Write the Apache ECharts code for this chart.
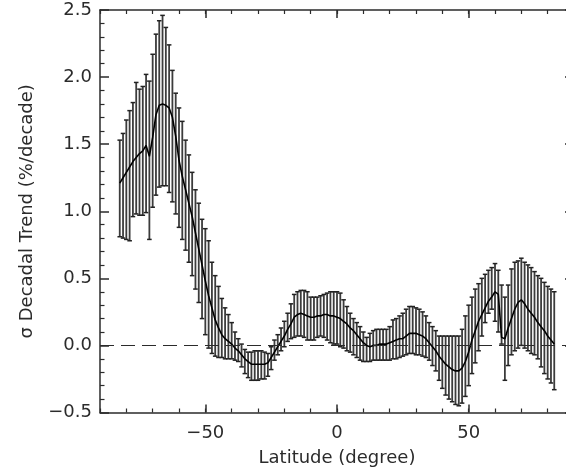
<!DOCTYPE html>
<html><head><meta charset="utf-8">
<script src="https://cdn.jsdelivr.net/npm/echarts@6/dist/echarts.min.js"></script>
<style>html,body{margin:0;padding:0;background:#fff;}#c{width:566px;height:474px;}</style>
</head><body><div id="c"></div>
<script>
const latitude = [
 -82.5,-81.25,-80,-78.75,-77.5,-76.25,-75,-73.75,-72.5,-71.25,
 -70,-68.75,-67.5,-66.25,-65,-63.75,-62.5,-61.25,-60,-58.75,
 -57.5,-56.25,-55,-53.75,-52.5,-51.25,-50,-48.75,-47.5,-46.25,
 -45,-43.75,-42.5,-41.25,-40,-38.75,-37.5,-36.25,-35,-33.75,
 -32.5,-31.25,-30,-28.75,-27.5,-26.25,-25,-23.75,-22.5,-21.25,
 -20,-18.75,-17.5,-16.25,-15,-13.75,-12.5,-11.25,-10,-8.75,
 -7.5,-6.25,-5,-3.75,-2.5,-1.25,0,1.25,2.5,3.75,
 5,6.25,7.5,8.75,10,11.25,12.5,13.75,15,16.25,
 17.5,18.75,20,21.25,22.5,23.75,25,26.25,27.5,28.75,
 30,31.25,32.5,33.75,35,36.25,37.5,38.75,40,41.25,
 42.5,43.75,45,46.25,47.5,48.75,50,51.25,52.5,53.75,
 55,56.25,57.5,58.75,60,61.25,62.5,63.75,65,66.25,
 67.5,68.75,70,71.25,72.5,73.75,75,76.25,77.5,78.75,
 80,81.25,82.5];
const trendMean = [
 1.21,1.25,1.29,1.33,1.37,1.40,1.43,1.45,1.49,1.41,
 1.55,1.72,1.79,1.80,1.79,1.77,1.70,1.56,1.38,1.26,
 1.16,1.06,0.96,0.84,0.72,0.60,0.48,0.37,0.28,0.19,
 0.13,0.08,0.05,0.03,0.01,-0.02,-0.04,-0.07,-0.10,-0.12,
 -0.14,-0.14,-0.14,-0.14,-0.14,-0.13,-0.09,-0.05,-0.01,0.03,
 0.07,0.12,0.16,0.21,0.23,0.24,0.23,0.22,0.21,0.21,
 0.22,0.22,0.23,0.23,0.22,0.22,0.21,0.20,0.18,0.16,
 0.13,0.11,0.08,0.05,0.02,0.00,-0.01,0.00,0.00,0.01,
 0.01,0.01,0.02,0.03,0.04,0.05,0.05,0.07,0.09,0.09,
 0.09,0.08,0.07,0.05,0.02,-0.01,-0.04,-0.08,-0.11,-0.14,
 -0.16,-0.18,-0.19,-0.19,-0.17,-0.12,-0.05,0.04,0.11,0.18,
 0.23,0.28,0.33,0.36,0.40,0.38,0.06,0.05,0.13,0.20,
 0.27,0.32,0.34,0.31,0.27,0.24,0.21,0.17,0.14,0.11,
 0.07,0.04,0.01];
const trendUpper = [
 1.53,1.58,1.68,1.75,1.81,1.96,1.91,1.93,2.02,1.97,
 2.17,2.32,2.42,2.46,2.37,2.24,2.05,1.88,1.77,1.67,
 1.53,1.42,1.29,1.16,1.06,0.94,0.87,0.78,0.62,0.52,
 0.44,0.35,0.28,0.23,0.17,0.10,0.05,0.01,-0.03,-0.05,
 -0.05,-0.04,-0.04,-0.04,-0.05,-0.06,-0.01,0.04,0.08,0.13,
 0.18,0.24,0.31,0.38,0.40,0.41,0.41,0.40,0.36,0.36,
 0.36,0.37,0.38,0.39,0.40,0.40,0.40,0.39,0.34,0.29,
 0.24,0.20,0.17,0.14,0.10,0.06,0.09,0.11,0.12,0.12,
 0.12,0.12,0.14,0.19,0.20,0.22,0.24,0.27,0.29,0.29,
 0.28,0.27,0.25,0.22,0.17,0.14,0.11,0.07,0.07,0.07,
 0.07,0.07,0.07,0.07,0.12,0.22,0.30,0.36,0.42,0.46,
 0.50,0.53,0.56,0.58,0.61,0.56,0.45,0.36,0.45,0.57,
 0.62,0.63,0.65,0.62,0.60,0.58,0.55,0.52,0.50,0.47,
 0.44,0.42,0.40];
const trendLower = [
 0.81,0.80,0.79,0.78,0.96,0.98,0.97,0.97,0.99,0.79,
 1.03,1.12,1.18,1.19,1.19,1.14,1.07,0.98,0.88,0.79,
 0.71,0.62,0.52,0.42,0.32,0.20,0.08,-0.02,-0.06,-0.08,
 -0.09,-0.09,-0.10,-0.10,-0.10,-0.11,-0.12,-0.16,-0.21,-0.24,
 -0.26,-0.26,-0.26,-0.25,-0.25,-0.23,-0.18,-0.11,-0.07,-0.04,
 -0.01,0.03,0.05,0.06,0.07,0.07,0.06,0.04,0.04,0.04,
 0.06,0.07,0.06,0.04,0.02,0.01,0.01,-0.01,-0.02,-0.04,
 -0.05,-0.07,-0.09,-0.11,-0.12,-0.12,-0.12,-0.11,-0.11,-0.11,
 -0.11,-0.11,-0.11,-0.10,-0.10,-0.09,-0.08,-0.07,-0.06,-0.06,
 -0.07,-0.07,-0.08,-0.09,-0.11,-0.15,-0.19,-0.26,-0.32,-0.37,
 -0.40,-0.42,-0.44,-0.45,-0.43,-0.38,-0.30,-0.21,-0.13,-0.04,
 0.07,0.17,0.24,0.27,0.18,0.10,0.01,-0.26,-0.15,-0.07,
 -0.04,-0.02,0.00,-0.02,-0.04,-0.06,-0.07,-0.10,-0.16,-0.21,
 -0.25,-0.28,-0.33];
const xTickLabels = [-50, 0, 50];
const yTickLabels = [-0.5, 0, 0.5, 1.0, 1.5, 2.0, 2.5];
const xTitle = 'Latitude (degree)';
const yTitle = '\u03c3 Decadal Trend (%/decade)';

const ink = '#2b2b2b';
const font = 'DejaVu Sans';
const fs = 18;
const minus = s => String(s).replace('-', '\u2212');

const chart = echarts.init(document.getElementById('c'), null, {renderer: 'canvas'});

function xAxisBase(pos) {
  return {
    type: 'value', min: -90, max: 90, position: pos,
    splitLine: {show: false}
  };
}

const option = {
  backgroundColor: '#fff',
  animation: false,
  grid: {left: 100, top: 10, right: -8, bottom: 61.5, containLabel: false, outerBoundsMode: 'none'},
  xAxis: [
    Object.assign(xAxisBase('bottom'), {
      interval: 10,
      axisLine: {show: true, onZero: false, lineStyle: {color: ink, width: 1.5}},
      axisTick: {show: true, inside: true, length: 4, lineStyle: {color: ink, width: 1.2}},
      axisLabel: {
        show: true, margin: 12, color: ink, fontFamily: font, fontSize: fs,
        formatter: v => xTickLabels.indexOf(v) >= 0 ? minus(v) : ''
      },
      name: xTitle, nameLocation: 'middle', nameGap: 37,
      nameTextStyle: {color: ink, fontFamily: font, fontSize: fs}
    }),
    Object.assign(xAxisBase('bottom'), {
      axisLine: {show: false, onZero: false},
      axisTick: {show: true, inside: true, length: 8, customValues: xTickLabels, lineStyle: {color: ink, width: 1.5}},
      axisLabel: {show: false}
    }),
    Object.assign(xAxisBase('top'), {
      interval: 10,
      axisLine: {show: true, onZero: false, lineStyle: {color: ink, width: 1.5}},
      axisTick: {show: true, inside: true, length: 4, lineStyle: {color: ink, width: 1.2}},
      axisLabel: {show: false}
    }),
    Object.assign(xAxisBase('top'), {
      axisLine: {show: false, onZero: false},
      axisTick: {show: true, inside: true, length: 8, customValues: xTickLabels, lineStyle: {color: ink, width: 1.5}},
      axisLabel: {show: false}
    })
  ],
  yAxis: [
    {
      type: 'value', min: -0.5, max: 2.5, interval: 0.5, position: 'left',
      splitLine: {show: false},
      axisLine: {show: true, onZero: false, lineStyle: {color: ink, width: 1.5}},
      axisTick: {show: true, inside: true, length: 9, lineStyle: {color: ink, width: 1.5}},
      minorTick: {show: true, splitNumber: 5, length: 4.5, lineStyle: {color: ink, width: 1.2}},
      axisLabel: {margin: 8, color: ink, fontFamily: font, fontSize: fs,
        formatter: v => minus(v.toFixed(1))},
      name: yTitle, nameLocation: 'middle', nameGap: 64,
      nameTextStyle: {color: ink, fontFamily: font, fontSize: fs}
    },
    {
      type: 'value', min: -0.5, max: 2.5, interval: 0.5, position: 'right',
      splitLine: {show: false},
      axisLine: {show: true, onZero: false, lineStyle: {color: ink, width: 1.5}},
      axisTick: {show: true, inside: true, length: 9, lineStyle: {color: ink, width: 1.5}},
      minorTick: {show: true, splitNumber: 5, length: 4.5, lineStyle: {color: ink, width: 1.2}},
      axisLabel: {show: false}
    }
  ],
  series: [
    {
      type: 'custom', xAxisIndex: 0, yAxisIndex: 0, silent: true,
      data: latitude.map((x, i) => [x, trendLower[i], trendUpper[i]]),
      encode: {x: 0, y: [1, 2]},
      renderItem: function (params, api) {
        const x = api.value(0);
        const lo = api.coord([x, api.value(1)]);
        const hi = api.coord([x, api.value(2)]);
        const hw = 2.3;
        const st = {stroke: '#3c3c3c', lineWidth: 1.8};
        return {
          type: 'group',
          children: [
            {type: 'line', shape: {x1: lo[0], y1: lo[1], x2: hi[0], y2: hi[1]}, style: st},
            {type: 'line', shape: {x1: hi[0] - hw, y1: hi[1], x2: hi[0] + hw, y2: hi[1]}, style: {stroke: '#222', lineWidth: 1.5}},
            {type: 'line', shape: {x1: lo[0] - hw, y1: lo[1], x2: lo[0] + hw, y2: lo[1]}, style: {stroke: '#222', lineWidth: 1.5}}
          ]
        };
      }
    },
    {
      type: 'line', xAxisIndex: 0, yAxisIndex: 0, silent: true,
      data: latitude.map((x, i) => [x, trendMean[i]]),
      showSymbol: false, symbol: 'none',
      lineStyle: {color: '#000', width: 1.6},
      markLine: {
        silent: true, symbol: 'none', label: {show: false},
        lineStyle: {color: ink, width: 1.2, type: [14, 7]},
        data: [[{coord: [-90, 0]}, {coord: [90, 0]}]]
      }
    }
  ]
};
chart.setOption(option);
</script>
</body></html>
